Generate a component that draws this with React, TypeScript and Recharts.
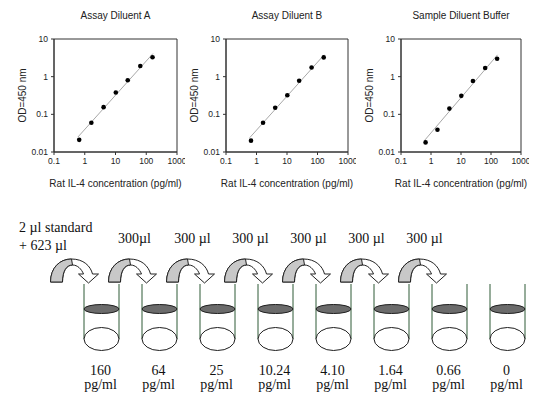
import React from "react";
import {
  ComposedChart,
  Scatter,
  XAxis,
  YAxis,
  ReferenceArea,
  ReferenceLine,
} from "recharts";

// standard curve: concentration (pg/ml) vs OD 450 nm
const concentrations = [0.66, 1.64, 4.1, 10.24, 25, 64, 160];
const odDiluentA = [0.021, 0.06, 0.155, 0.38, 0.8, 1.92, 3.27];
const odDiluentB = [0.02, 0.06, 0.15, 0.32, 0.78, 1.75, 3.25];
const odSampleBuffer = [0.018, 0.039, 0.142, 0.31, 0.77, 1.7, 3.0];

// fitted line end points
const fitDiluentA = [
  { x: 0.6, y: 0.025 },
  { x: 165, y: 4.1 },
];
const fitDiluentB = [
  { x: 0.6, y: 0.024 },
  { x: 165, y: 3.8 },
];
const fitSampleBuffer = [
  { x: 0.6, y: 0.02 },
  { x: 165, y: 3.8 },
];

const xTicks = [0.1, 1, 10, 100, 1000];
const yTicks = [0.01, 0.1, 1, 10];

// dilution series
const tubeConcentrations = ["160", "64", "25", "10.24", "4.10", "1.64", "0.66", "0"];
const transferLabels = [
  ["2 µl standard", "+ 623 µl"],
  ["300µl"],
  ["300 µl"],
  ["300 µl"],
  ["300 µl"],
  ["300 µl"],
  ["300 µl"],
];

const SANS = '"Liberation Sans", Arial, sans-serif';
const SERIF = '"Liberation Serif", "Times New Roman", serif';

type Pt = { x: number; y: number };

function Dot(props: { cx?: number; cy?: number }) {
  const { cx = 0, cy = 0 } = props;
  return <circle cx={cx} cy={cy} r={2.3} fill="#000" />;
}

interface PanelProps {
  title: string;
  od: number[];
  fit: Pt[];
  left: number;
  plotWidth: number;
}

function CurvePanel({ title, od, fit, left, plotWidth }: PanelProps) {
  const points = concentrations.map((c, i) => ({ x: c, y: od[i] }));
  const width = plotWidth + 54 + 8;
  return (
    <div style={{ position: "absolute", left, top: 0, width, height: 200 }}>
      <div
        style={{
          position: "absolute",
          left: 54,
          top: 10,
          width: plotWidth,
          textAlign: "center",
          fontFamily: SANS,
          fontSize: 10,
          color: "#222",
          whiteSpace: "nowrap",
        }}
      >
        {title}
      </div>
      <ComposedChart
        width={width}
        height={200}
        data={points}
        margin={{ top: 39, right: 8, bottom: 0, left: 10 }}
        style={{ fontFamily: SANS }}
      >
        <XAxis
          dataKey="x"
          type="number"
          scale="log"
          domain={[0.1, 1000]}
          ticks={xTicks}
          interval={0}
          allowDataOverflow
          height={48}
          tickSize={3}
          tickMargin={3}
          stroke="#333"
          tick={{ fontSize: 8.5, fill: "#222" }}
          label={{
            value: "Rat IL-4 concentration (pg/ml)",
            position: "insideBottom",
            offset: 13,
            fontSize: 10,
            fill: "#222",
          }}
        />
        <YAxis
          dataKey="y"
          type="number"
          scale="log"
          domain={[0.01, 10]}
          ticks={yTicks}
          interval={0}
          allowDataOverflow
          width={44}
          tickSize={3}
          tickMargin={3}
          stroke="#333"
          tick={{ fontSize: 8.5, fill: "#222" }}
          label={{
            value: "OD=450 nm",
            angle: -90,
            position: "insideLeft",
            offset: 12,
            fontSize: 10,
            fill: "#222",
            style: { textAnchor: "middle" },
          }}
        />
        <ReferenceArea
          x1={0.1}
          x2={1000}
          y1={0.01}
          y2={10}
          fill="none"
          stroke="#333"
          strokeWidth={1}
          ifOverflow="visible"
        />
        <ReferenceLine
          segment={fit}
          stroke="#a8a8a8"
          strokeWidth={1}
          ifOverflow="visible"
        />
        <Scatter data={points} shape={<Dot />} isAnimationActive={false} />
      </ComposedChart>
    </div>
  );
}

function TubeShape(props: { cx?: number; cy?: number; payload?: { conc: string } }) {
  const { cx = 0, cy = 0, payload } = props;
  const r = 17.5;
  return (
    <g>
      <line x1={cx - r} y1={cy} x2={cx - r} y2={cy + 55} stroke="#2f5b36" strokeWidth={1} />
      <line x1={cx + r} y1={cy} x2={cx + r} y2={cy + 55} stroke="#2f5b36" strokeWidth={1} />
      <ellipse cx={cx} cy={cy + 25} rx={r} ry={4.5} fill="#6b6b6b" stroke="#1e1e1e" />
      <ellipse cx={cx} cy={cy + 55} rx={r} ry={11.5} fill="#fff" stroke="#1e1e1e" />
      <text x={cx - 1} y={cy + 90.5} textAnchor="middle" fontSize={14} fontFamily={SERIF} fill="#111">
        {payload?.conc}
      </text>
      <text x={cx - 1} y={cy + 105} textAnchor="middle" fontSize={14} fontFamily={SERIF} fill="#111">
        pg/ml
      </text>
    </g>
  );
}

function ArrowShape(props: { cx?: number; cy?: number; payload?: { label: string[] } }) {
  const { cx = 0, cy = 0, payload } = props;
  const L = cx - 51;
  const B = cy - 2;
  const full = `M${L},${B} C${L},${B - 14} ${L + 9},${B - 23} ${L + 21},${B - 23}
    C${L + 33},${B - 23} ${L + 40},${B - 16} ${L + 42},${B - 8}
    L${L + 48},${B - 8} L${L + 38},${B + 1} L${L + 28},${B - 8} L${L + 33},${B - 8}
    C${L + 31},${B - 13} ${L + 27},${B - 17} ${L + 22},${B - 17}
    C${L + 16},${B - 17} ${L + 12},${B - 11} ${L + 12},${B} Z`;
  const grey = `M${L},${B} C${L},${B - 14} ${L + 9},${B - 23} ${L + 21},${B - 23}
    L${L + 22},${B - 17} C${L + 16},${B - 17} ${L + 12},${B - 11} ${L + 12},${B} Z`;
  const lines = payload?.label ?? [];
  return (
    <g>
      <path d={full} fill="#fff" stroke="#222" strokeWidth={1} strokeLinejoin="round" />
      <path d={grey} fill="#c8c8c8" stroke="#222" strokeWidth={1} strokeLinejoin="round" />
      {lines.length > 1 ? (
        lines.map((t, i) => (
          <text key={i} x={cx - 82.5} y={cy - 52.5 + i * 18} fontSize={14} fontFamily={SERIF} fill="#111">
            {t}
          </text>
        ))
      ) : (
        <text x={cx - 25} y={cy - 41} textAnchor="middle" fontSize={14} fontFamily={SERIF} fill="#111">
          {lines[0]}
        </text>
      )}
    </g>
  );
}

function DilutionDiagram() {
  const tubes = tubeConcentrations.map((conc, i) => ({ step: i, level: 1, conc }));
  const arrows = transferLabels.map((label, i) => ({ step: i, level: 1, label }));
  return (
    <div style={{ position: "absolute", left: 0, top: 200, width: 550, height: 204 }}>
      <ComposedChart
        width={550}
        height={204}
        margin={{ top: 84, right: 42.5, bottom: 40, left: 101.5 }}
      >
        <XAxis dataKey="step" type="number" domain={[0, 7]} hide />
        <YAxis dataKey="level" type="number" domain={[0, 1]} hide />
        <Scatter data={arrows} shape={<ArrowShape />} isAnimationActive={false} />
        <Scatter data={tubes} shape={<TubeShape />} isAnimationActive={false} />
      </ComposedChart>
    </div>
  );
}

export default function App() {
  return (
    <div
      style={{
        position: "absolute",
        left: 0,
        top: 0,
        width: 550,
        height: 404,
        background: "#fff",
        overflow: "hidden",
      }}
    >
      <CurvePanel title="Assay Diluent A" od={odDiluentA} fit={fitDiluentA} left={0} plotWidth={123} />
      <CurvePanel title="Assay Diluent B" od={odDiluentB} fit={fitDiluentB} left={172} plotWidth={122} />
      <CurvePanel
        title="Sample Diluent Buffer"
        od={odSampleBuffer}
        fit={fitSampleBuffer}
        left={347}
        plotWidth={120}
      />
      <DilutionDiagram />
    </div>
  );
}
